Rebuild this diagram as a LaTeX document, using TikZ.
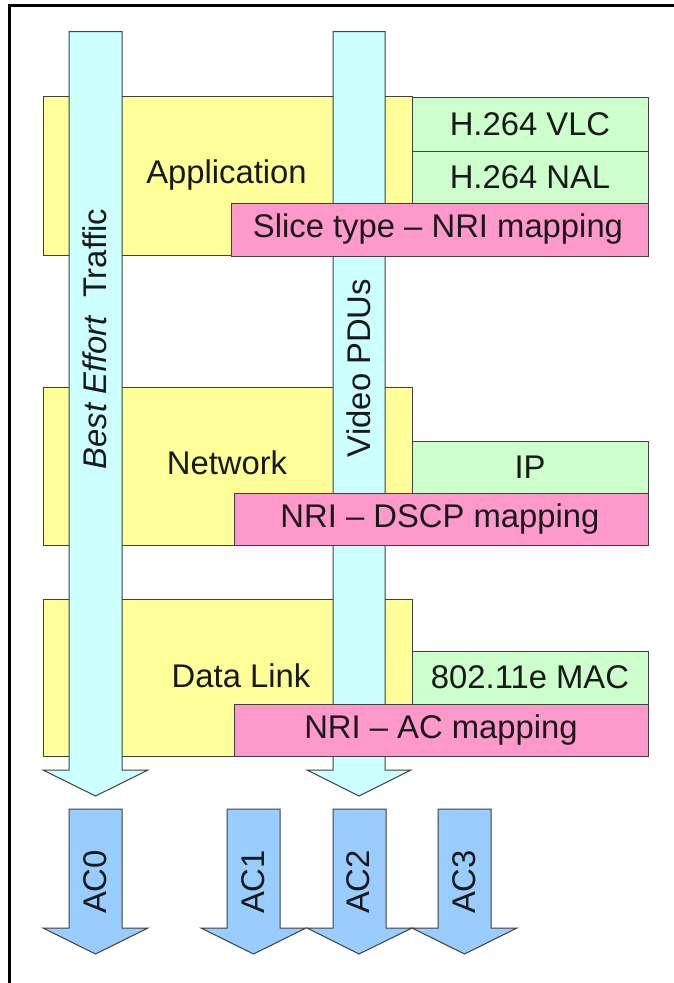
\documentclass[tikz,border=0pt]{standalone}
\usepackage{fontspec}
\setmainfont{Liberation Sans}
\definecolor{ylw}{HTML}{FFFF99}
\definecolor{cyn}{HTML}{CCFFFF}
\definecolor{grn}{HTML}{CCFFCC}
\definecolor{pnk}{HTML}{FF99CC}
\definecolor{blu}{HTML}{99CCFF}
\definecolor{edge}{HTML}{404040}
\begin{document}
\begin{tikzpicture}[x=1pt,y=-1pt,
  every node/.style={font=\fontsize{32.8}{38}\selectfont, text=black!90},
  box/.style={draw=edge, line width=1pt, inner sep=0pt, anchor=north west},
  ybox/.style={box, fill=ylw},
  gbox/.style={box, fill=grn},
  pbox/.style={box, fill=pnk},
  carrow/.style={draw=edge, line width=1pt, fill=cyn, line join=miter},
  barrow/.style={draw=edge, line width=1pt, fill=blu, line join=miter},
  lbl/.style={inner sep=0pt}
]
\useasboundingbox (0,0) rectangle (674,983);
\fill[white] (0,0) rectangle (674,983);
% frame
\draw[line width=3.5pt] (9.5,983) -- (9.5,5.5) -- (674,5.5);

% layers
\node[ybox, minimum width=369pt, minimum height=159pt] (app) at (43,96) {};
\node[ybox, minimum width=369pt, minimum height=158pt] (net) at (43,387) {};
\node[ybox, minimum width=369pt, minimum height=157pt] (dl) at (43,599) {};

% green boxes
\node[gbox, minimum width=236pt, minimum height=54.5pt] (vlc) at (412,96.5) {};
\node[gbox, minimum width=236pt, minimum height=52pt] (nal) at (412,151) {};
\node[gbox, minimum width=236pt, minimum height=52pt] (ip) at (412,440.7) {};
\node[gbox, minimum width=236pt, minimum height=53pt] (mac) at (412,651) {};

% cyan arrows
\draw[carrow] (69,31.5) -- (122,31.5) -- (122,770) -- (148,770) -- (95.5,796)
  -- (43,770) -- (69,770) -- cycle;
\draw[carrow] (333,31.5) -- (385,31.5) -- (385,770) -- (411,770) -- (359,796)
  -- (307,770) -- (333,770) -- cycle;

% rotated text on cyan arrows (under the pink boxes)
\node[lbl, rotate=90] (tbe) at (95,339) {\textit{Best Effort}\hspace{8pt} Traffic};
\node[lbl, rotate=90] (tvid) at (359,368) {Video PDUs};

% pink boxes
\node[pbox, minimum width=417pt, minimum height=52.5pt] (slc) at (231,203) {};
\node[pbox, minimum width=414pt, minimum height=52.3pt] (dscp) at (234,492.7) {};
\node[pbox, minimum width=414pt, minimum height=52pt] (acm) at (234,704) {};

% blue AC arrows
\foreach \xs/\xc in {69/95.5, 227/253.5, 333/359, 438/464.5}{
  \draw[barrow] (\xs,809) -- (\xs+53,809) -- (\xs+53,928) -- (\xs+79,928)
    -- (\xc,954) -- (\xs-26,928) -- (\xs,928) -- cycle;
}

% texts
\node[lbl] (tapp) at (226.5,175) {Application};
\node[lbl] (tnet) at (227,463) {Network};
\node[lbl] (tdl) at (241,676) {Data Link};
\node[lbl] (tvlc) at (530,124) {H.264 VLC};
\node[lbl] (tnal) at (530,177) {H.264 NAL};
\node[lbl] (tip) at (530,467) {IP};
\node[lbl] (tmac) at (530,677) {802.11e MAC};
\node[lbl] (tslc) at (438,229) {Slice type – NRI mapping};
\node[lbl] (tdscp) at (440,519) {NRI – DSCP mapping};
\node[lbl] (tacm) at (441,730) {NRI – AC mapping};
\node[lbl, rotate=90] (ac0) at (95,882) {AC0};
\node[lbl, rotate=90] (ac1) at (253,882) {AC1};
\node[lbl, rotate=90] (ac2) at (358.5,882) {AC2};
\node[lbl, rotate=90] (ac3) at (464,882) {AC3};
\end{tikzpicture}
\end{document}
